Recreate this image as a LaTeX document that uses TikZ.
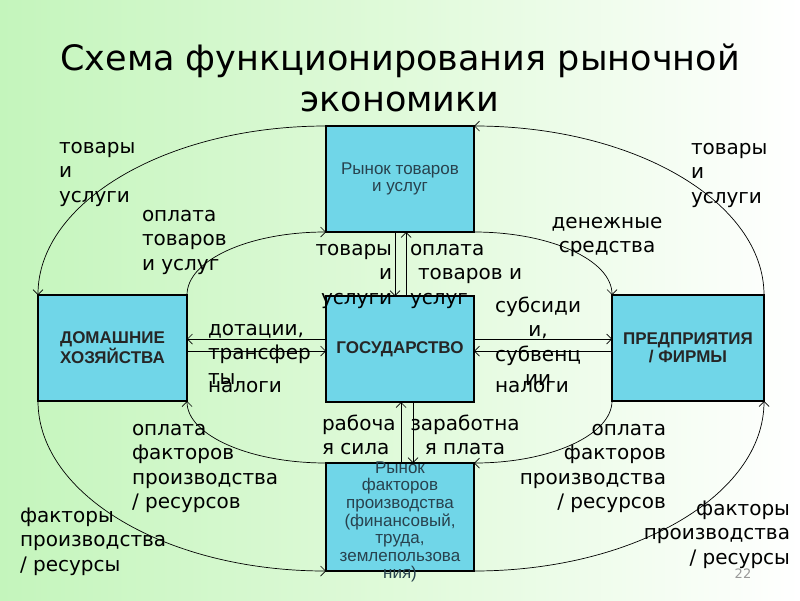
\documentclass[tikz,border=0pt]{standalone}
\usepackage{fontspec}
\usetikzlibrary{arrows.meta}
\newfontfamily\lblfont{DejaVu Sans}
\newfontfamily\boxfont{Liberation Sans}
\newfontfamily\ttlfont{DejaVu Sans}
\definecolor{boxcyan}{RGB}{112,214,232}
\definecolor{bggreen}{RGB}{196,245,188}
\definecolor{bgmid}{RGB}{224,250,218}
\definecolor{boxtext}{RGB}{40,66,78}
\newcommand\lblstrut{\rule{0pt}{16pt}}
\newcommand\boxstrut{\rule{0pt}{13pt}}
\begin{document}
\begin{tikzpicture}[x=1pt,y=-1pt,
  box/.style={draw=black,line width=1.8pt,fill=boxcyan,inner sep=0pt,outer sep=0pt,
    minimum width=148pt,minimum height=106pt,align=center},
  boxbold/.style={font=\boxfont\bfseries\fontsize{17}{18}\selectfont,text=black!85},
  boxthin/.style={font=\boxfont\fontsize{17}{17.6}\selectfont,text=boxtext,align=center,inner sep=0pt},
  lbl/.style={font=\lblfont\fontsize{20}{24.5}\selectfont,inner sep=0pt,outer sep=0pt},
  arr/.style={line width=0.7pt,-{Straight Barb[length=5pt,width=10pt]}}
]
\shade[left color=bggreen,right color=white,middle color=bgmid] (0,0) rectangle (800,600);
\useasboundingbox (0,0) rectangle (800,600);

% title
\node[font=\ttlfont\fontsize{35}{42}\selectfont,anchor=base,inner sep=0pt] (t1) at (400,70) {Схема функционирования рыночной};
\node[font=\ttlfont\fontsize{35}{42}\selectfont,anchor=base,inner sep=0pt] (t2) at (400,111) {экономики};

% boxes
\node[box,boxthin] (mkt) at (400,179) {Рынок товаров\\и услуг};
\node[box,boxbold,minimum width=149pt] (hh) at (112.5,348) {ДОМАШНИЕ\\ХОЗЯЙСТВА};
\node[box,boxbold] (gov) at (400,349) {ГОСУДАРСТВО};
\node[box,boxbold,minimum width=152pt] (fm) at (688,348) {ПРЕДПРИЯТИЯ\\/ ФИРМЫ};
\node[box,minimum height=108pt] (fac) at (400,517) {};
\node[boxthin,anchor=north] (factxt) at (400,460) {\boxstrut Рынок\\факторов\\производства\\(финансовый,\\труда,\\землепользова\\ния)};

% outer curves
\draw[arr] (mkt.north west) .. controls +(-159,0) and +(0,-93) .. (hh.north west);
\draw[arr] (hh.north east) .. controls +(0,-35) and +(-77,0) .. (mkt.south west);
\draw[arr] (fm.north east) .. controls +(0,-93) and +(160,0) .. (mkt.north east);
\draw[arr] (mkt.south east) .. controls +(76,0) and +(0,-35) .. (fm.north west);
\draw[arr] (hh.south west) .. controls +(0,94) and +(-159,0) .. (fac.south west);
\draw[arr] (fac.north west) .. controls +(-77,0) and +(0,34) .. (hh.south east);
\draw[arr] (fm.south west) .. controls +(0,34) and +(76,0) .. (fac.north east);
\draw[arr] (fac.south east) .. controls +(160,0) and +(0,94) .. (fm.south east);

% straight connectors
\coordinate (g1) at ([yshift=10pt]gov.west);
\coordinate (h1) at ([yshift=-3pt]hh.east);
\coordinate (g2) at ([yshift=10pt]gov.east);
\coordinate (f2) at ([yshift=-3pt]fm.west);
\coordinate (m1) at ([xshift=-5pt]mkt.south);
\coordinate (g3) at ([xshift=6pt]gov.north);
\coordinate (p1) at ([xshift=1pt]fac.north);
\coordinate (g4) at ([xshift=13pt]gov.south);
\draw[arr] (g1) -- (g1 -| hh.east);
\draw[arr] (h1) -- (h1 -| gov.west);
\draw[arr] (g2) -- (g2 -| fm.west);
\draw[arr] (f2) -- (f2 -| gov.east);
\draw[arr] (m1) -- (m1 |- gov.north);
\draw[arr] (g3) -- (g3 |- mkt.south);
\draw[arr] (p1) -- (p1 |- gov.south);
\draw[arr] (g4) -- (g4 |- fac.north);

% labels
\node[lbl,anchor=north west,align=left] (tl1) at (59,137) {\lblstrut товары\\и\\услуги};
\node[lbl,anchor=north west,align=left] (tl2) at (142,205) {\lblstrut оплата\\товаров\\и услуг};
\node[lbl,anchor=north west,align=left] (tr1) at (691,138) {\lblstrut товары\\и\\услуги};
\node[lbl,anchor=north,align=center] (tr2) at (607,212) {\lblstrut денежные\\средства};
\node[lbl,anchor=north east,align=right] (c1) at (392,239) {\lblstrut товары\\и\\услуги};
\node[lbl,anchor=north west,align=left] (c2) at (410,239) {\lblstrut оплата\\\hspace*{8pt}товаров и\\услуг};
\node[lbl,anchor=north west,align=left] (l1) at (208,319) {\lblstrut дотации,\\трансфер\\ты};
\node[lbl,anchor=base west] (l2) at (208,392) {налоги};
\node[lbl,anchor=north,align=center] (r1) at (538,296) {\lblstrut субсиди\\и,\\субвенц\\ии};
\node[lbl,anchor=base west] (r2) at (495,392) {налоги};
\node[lbl,anchor=north west,align=left] (b1) at (322,414) {\lblstrut рабоча\\я сила};
\node[lbl,anchor=north,align=center] (b2) at (465,414) {\lblstrut заработна\\я плата};
\node[lbl,anchor=north west,align=left] (bl1) at (132,419) {\lblstrut оплата\\факторов\\производства\\/ ресурсов};
\node[lbl,anchor=north east,align=right] (br1) at (666,419) {\lblstrut оплата\\факторов\\производства\\/ ресурсов};
\node[lbl,anchor=north west,align=left] (bl2) at (20,506) {\lblstrut факторы\\производства\\/ ресурсы};
\node[lbl,anchor=north east,align=right] (br2) at (790,499) {\lblstrut факторы\\производства\\/ ресурсы};
\node[font=\lblfont\fontsize{13}{15}\selectfont,text=black!40,anchor=base,inner sep=0pt] (pg) at (743,578) {22};
\end{tikzpicture}
\end{document}
